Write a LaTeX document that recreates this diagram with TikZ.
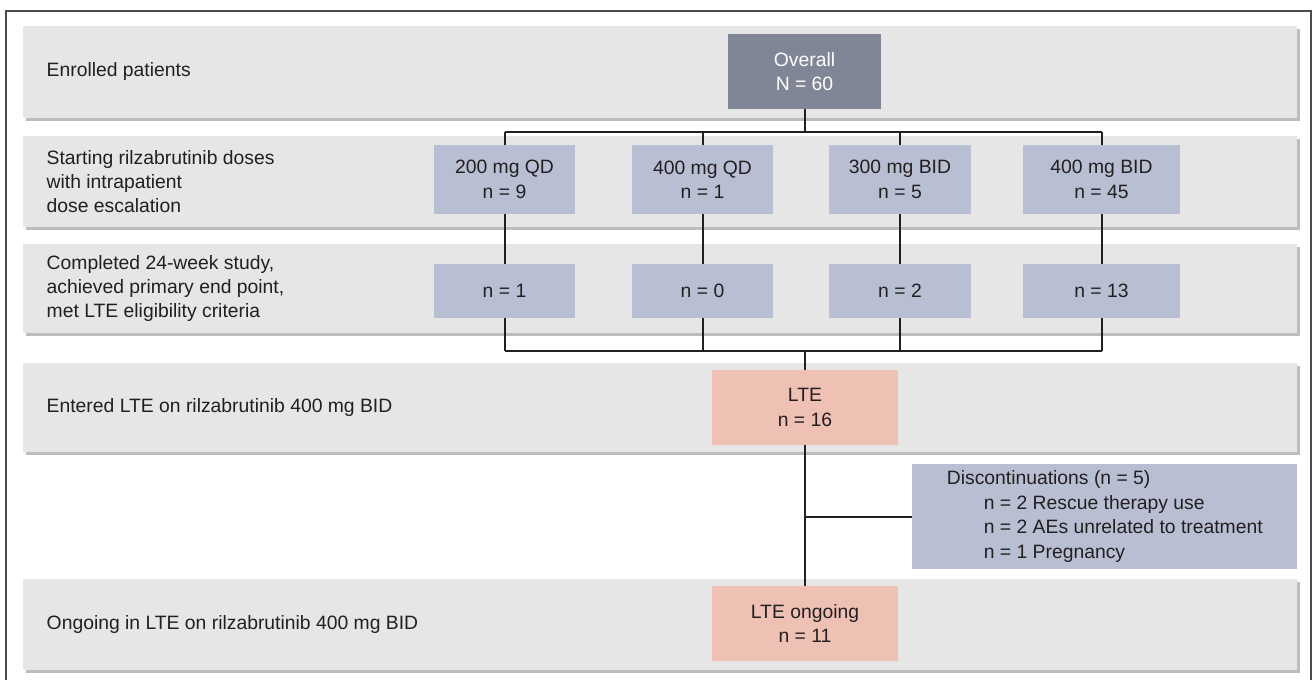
\documentclass[tikz,border=0pt]{standalone}
\usepackage{fontspec}
\setmainfont{Liberation Sans}
\usepackage{xcolor}
\usetikzlibrary{calc}
\definecolor{bandgray}{HTML}{E6E6E6}
\definecolor{shadowgray}{HTML}{BDBDBD}
\definecolor{darkbox}{HTML}{808695}
\definecolor{bluebox}{HTML}{B9BFD3}
\definecolor{pinkbox}{HTML}{EFC1B4}
\definecolor{inkgray}{HTML}{231F20}

\tikzset{
  txt/.style={font=\fontsize{14.5}{18.3}\selectfont, text=inkgray},
  box/.style={txt, align=center, inner sep=0pt},
  dosebox/.style={box, fill=bluebox, minimum height=69*0.75pt},
  donebox/.style={box, fill=bluebox, minimum height=54*0.75pt},
  ltebox/.style={box, fill=pinkbox, minimum width=186*0.75pt, minimum height=75*0.75pt},
  conn/.style={line width=1.5pt, draw=inkgray},
}

\begin{document}
\begin{tikzpicture}[x=0.75pt, y=-0.75pt]
                      \useasboundingbox (0,0) rectangle (1313,680);
                      \draw[black!70, line width=0.9pt] (6,680) -- (6,11) -- (1311,11) -- (1311,680);

                      %Bands
                      \foreach \ya/\yb in {26/118, 136/227, 244/333, 363/452, 579/670}{
                        \fill[shadowgray] (26,\ya+3) rectangle (1300,\yb+3);
                        \fill[bandgray] (23,\ya) rectangle (1297,\yb);
                      }

                      \node[txt, anchor=west, align=left] (lab1) at (42,72) {Enrolled patients};
                      \node[txt, anchor=west, align=left] (lab2) at (42,181.5) {Starting rilzabrutinib doses\\with intrapatient\\dose escalation};
                      \node[txt, anchor=west, align=left] (lab3) at (42,288.5) {Completed 24-week study,\\achieved primary end point,\\met LTE eligibility criteria};
                      \node[txt, anchor=west, align=left] (lab4) at (42,407.5) {Entered LTE on rilzabrutinib 400 mg BID};
                      \node[txt, anchor=west, align=left] (lab5) at (42,624.5) {Ongoing in LTE on rilzabrutinib 400 mg BID};

                      %Boxes
                      \node[box, fill=darkbox, text=white, minimum width=153*0.75pt, minimum height=75*0.75pt] (ovr) at (804.5,71.5) {Overall\\N = 60};
                      \coordinate (bar1) at (804,132);
                      \coordinate (bar2) at (804,351);
                      \foreach \nm/\cx/\w/\dose/\nn/\cn in {q200/504.5/141/200 mg QD/9/1, q400/702.5/141/400 mg QD/1/0, b300/900/142/300 mg BID/5/2, b400/1101.5/157/400 mg BID/45/13}{
                        \node[dosebox, minimum width=\w*0.75pt] (\nm) at (\cx,179.5) {\dose\\n = \nn};
                        \node[donebox, minimum width=\w*0.75pt] (c\nm) at (\cx,291) {n = \cn};
                        \draw[conn] (\nm.south) -- (c\nm.north);
                        \draw[conn] (\nm.north) -- (\nm.north|-bar1);
                        \draw[conn] (c\nm.south) -- (c\nm.south|-bar2);
                      }
                      \node[ltebox] (lte) at (805,407.5) {LTE\\n = 16};
                      \node[ltebox] (ongo) at (805,623.5) {LTE ongoing\\n = 11};
                      \node[box, fill=bluebox, align=left, anchor=west, minimum width=385*0.75pt, minimum height=105*0.75pt] (disc) at (912,516.5)
                        {Discontinuations (n = 5)\\\hspace*{27.75pt}n = 2 Rescue therapy use\\\hspace*{27.75pt}n = 2 AEs unrelated to treatment\\\hspace*{27.75pt}n = 1 Pregnancy};

                      %Connectors
                      \draw[conn] (ovr.south) -- (ovr.south|-bar1);
                      \draw[conn] (q200.north|-bar1) -- (b400.north|-bar1);
                      \draw[conn] (cq200.south|-bar2) -- (cb400.south|-bar2);
                      \draw[conn] (lte.north|-bar2) -- (lte.north);
                      \draw[conn] (lte.south) -- (ongo.north);
                      \draw[conn] (lte.south|-disc.west) -- (disc.west);
                    \end{tikzpicture}
\end{document}
